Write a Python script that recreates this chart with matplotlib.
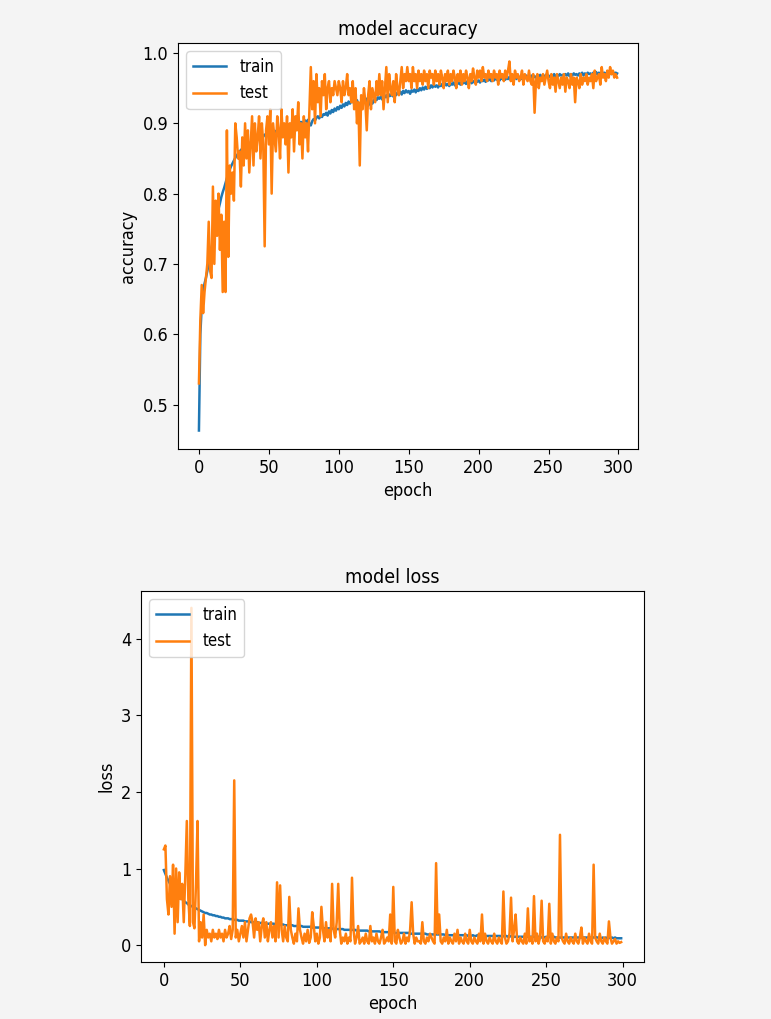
import matplotlib
matplotlib.use("Agg")
import matplotlib.pyplot as plt

plt.rcParams["font.family"] = ["DejaVu Sans"]
plt.rcParams["font.stretch"] = "condensed"

# ─── data (300 epochs) ───
train_acc = [
    0.463, 0.600, 0.640, 0.660, 0.672, 0.680, 0.690, 0.700, 0.712, 0.722,
    0.733, 0.745, 0.757, 0.770, 0.778, 0.786, 0.795, 0.802, 0.808, 0.815,
    0.822, 0.828, 0.834, 0.839, 0.843, 0.847, 0.851, 0.854, 0.857, 0.860,
    0.862, 0.864, 0.866, 0.867, 0.869, 0.871, 0.870, 0.873, 0.875, 0.874,
    0.876, 0.878, 0.877, 0.880, 0.879, 0.882, 0.881, 0.884, 0.883, 0.885,
    0.886, 0.884, 0.888, 0.887, 0.889, 0.888, 0.891, 0.890, 0.892, 0.891,
    0.893, 0.894, 0.892, 0.895, 0.896, 0.894, 0.897, 0.898, 0.896, 0.899,
    0.900, 0.898, 0.901, 0.902, 0.900, 0.903, 0.904, 0.902, 0.905, 0.899,
    0.897, 0.903, 0.906, 0.904, 0.908, 0.910, 0.907, 0.911, 0.909, 0.913,
    0.912, 0.915, 0.911, 0.917, 0.914, 0.919, 0.916, 0.921, 0.918, 0.923,
    0.920, 0.925, 0.922, 0.927, 0.924, 0.929, 0.926, 0.931, 0.928, 0.932,
    0.930, 0.934, 0.929, 0.933, 0.927, 0.925, 0.931, 0.934, 0.930, 0.936,
    0.933, 0.925, 0.930, 0.934, 0.928, 0.932, 0.936, 0.933, 0.937, 0.935,
    0.938, 0.934, 0.939, 0.937, 0.940, 0.936, 0.941, 0.939, 0.942, 0.938,
    0.943, 0.940, 0.944, 0.942, 0.945, 0.941, 0.946, 0.943, 0.947, 0.944,
    0.946, 0.942, 0.947, 0.945, 0.948, 0.944, 0.949, 0.946, 0.950, 0.947,
    0.951, 0.948, 0.952, 0.949, 0.953, 0.950, 0.954, 0.951, 0.955, 0.952,
    0.954, 0.951, 0.955, 0.953, 0.956, 0.952, 0.957, 0.954, 0.956, 0.953,
    0.957, 0.955, 0.958, 0.954, 0.959, 0.956, 0.958, 0.955, 0.960, 0.957,
    0.959, 0.956, 0.960, 0.958, 0.961, 0.957, 0.960, 0.958, 0.962, 0.959,
    0.961, 0.958, 0.963, 0.960, 0.962, 0.959, 0.963, 0.961, 0.964, 0.960,
    0.963, 0.961, 0.965, 0.962, 0.964, 0.961, 0.965, 0.963, 0.966, 0.962,
    0.965, 0.963, 0.966, 0.962, 0.965, 0.964, 0.967, 0.963, 0.966, 0.964,
    0.967, 0.963, 0.966, 0.964, 0.968, 0.965, 0.967, 0.964, 0.968, 0.965,
    0.967, 0.965, 0.968, 0.964, 0.969, 0.966, 0.968, 0.965, 0.969, 0.966,
    0.968, 0.966, 0.969, 0.967, 0.970, 0.966, 0.969, 0.967, 0.970, 0.968,
    0.969, 0.967, 0.970, 0.968, 0.971, 0.967, 0.970, 0.968, 0.971, 0.969,
    0.970, 0.968, 0.971, 0.969, 0.972, 0.968, 0.971, 0.969, 0.972, 0.970,
    0.971, 0.969, 0.972, 0.970, 0.973, 0.969, 0.972, 0.970, 0.973, 0.971,
    0.972, 0.970, 0.973, 0.971, 0.972, 0.970, 0.973, 0.971, 0.972, 0.971,
]

test_acc = [
    0.530, 0.620, 0.670, 0.630, 0.660, 0.680, 0.700, 0.760, 0.690, 0.680,
    0.810, 0.700, 0.790, 0.740, 0.800, 0.720, 0.770, 0.660, 0.760, 0.660,
    0.890, 0.710, 0.840, 0.800, 0.830, 0.790, 0.900, 0.880, 0.850, 0.860,
    0.810, 0.880, 0.840, 0.900, 0.850, 0.890, 0.830, 0.870, 0.910, 0.840,
    0.900, 0.860, 0.880, 0.910, 0.850, 0.900, 0.870, 0.725, 0.890, 0.910,
    0.870, 0.920, 0.800, 0.900, 0.880, 0.860, 0.910, 0.890, 0.850, 0.920,
    0.880, 0.900, 0.870, 0.910, 0.830, 0.900, 0.880, 0.920, 0.860, 0.910,
    0.890, 0.930, 0.870, 0.900, 0.850, 0.910, 0.880, 0.900, 0.860, 0.920,
    0.980, 0.920, 0.960, 0.900, 0.970, 0.930, 0.950, 0.910, 0.960, 0.940,
    0.970, 0.920, 0.950, 0.960, 0.930, 0.950, 0.940, 0.960, 0.950, 0.940,
    0.960, 0.950, 0.930, 0.960, 0.940, 0.950, 0.970, 0.940, 0.950, 0.930,
    0.960, 0.920, 0.950, 0.900, 0.930, 0.840, 0.940, 0.920, 0.950, 0.930,
    0.890, 0.940, 0.960, 0.920, 0.950, 0.940, 0.930, 0.960, 0.940, 0.970,
    0.940, 0.960, 0.920, 0.950, 0.980, 0.930, 0.970, 0.950, 0.940, 0.960,
    0.930, 0.970, 0.950, 0.940, 0.960, 0.980, 0.950, 0.970, 0.960, 0.980,
    0.960, 0.970, 0.950, 0.980, 0.960, 0.970, 0.950, 0.975, 0.960, 0.970,
    0.955, 0.975, 0.960, 0.970, 0.950, 0.975, 0.965, 0.970, 0.955, 0.975,
    0.960, 0.970, 0.955, 0.975, 0.965, 0.950, 0.970, 0.960, 0.975, 0.955,
    0.970, 0.960, 0.975, 0.965, 0.950, 0.970, 0.960, 0.975, 0.955, 0.970,
    0.960, 0.975, 0.965, 0.950, 0.970, 0.960, 0.978, 0.965, 0.955, 0.975,
    0.965, 0.975, 0.960, 0.980, 0.965, 0.970, 0.960, 0.975, 0.965, 0.970,
    0.960, 0.975, 0.965, 0.970, 0.955, 0.975, 0.965, 0.970, 0.960, 0.975,
    0.965, 0.975, 0.988, 0.960, 0.970, 0.955, 0.975, 0.965, 0.970, 0.960,
    0.965, 0.975, 0.955, 0.970, 0.965, 0.960, 0.975, 0.960, 0.955, 0.970,
    0.915, 0.960, 0.970, 0.950, 0.965, 0.960, 0.970, 0.955, 0.965, 0.975,
    0.960, 0.950, 0.970, 0.955, 0.965, 0.945, 0.970, 0.960, 0.950, 0.965,
    0.955, 0.970, 0.945, 0.965, 0.960, 0.950, 0.970, 0.955, 0.965, 0.930,
    0.965, 0.960, 0.950, 0.970, 0.955, 0.965, 0.960, 0.970, 0.955, 0.965,
    0.960, 0.970, 0.950, 0.975, 0.960, 0.965, 0.970, 0.955, 0.980, 0.965,
    0.970, 0.960, 0.975, 0.965, 0.980, 0.970, 0.975, 0.965, 0.970, 0.965,
]

train_loss = [
    0.98, 0.93, 0.88, 0.84, 0.80, 0.77, 0.74, 0.71, 0.68, 0.66,
    0.64, 0.62, 0.60, 0.58, 0.56, 0.55, 0.53, 0.52, 0.51, 0.50,
    0.49, 0.48, 0.47, 0.46, 0.45, 0.44, 0.43, 0.42, 0.42, 0.41,
    0.40, 0.40, 0.39, 0.39, 0.38, 0.38, 0.37, 0.37, 0.36, 0.36,
    0.35, 0.35, 0.35, 0.34, 0.34, 0.34, 0.33, 0.33, 0.33, 0.32,
    0.32, 0.32, 0.32, 0.31, 0.31, 0.31, 0.31, 0.30, 0.30, 0.30,
    0.30, 0.30, 0.29, 0.29, 0.29, 0.29, 0.29, 0.28, 0.28, 0.28,
    0.28, 0.28, 0.28, 0.27, 0.27, 0.27, 0.27, 0.27, 0.27, 0.26,
    0.26, 0.26, 0.26, 0.26, 0.26, 0.25, 0.25, 0.25, 0.25, 0.25,
    0.25, 0.24, 0.24, 0.24, 0.24, 0.24, 0.24, 0.23, 0.23, 0.23,
    0.23, 0.23, 0.23, 0.23, 0.22, 0.22, 0.22, 0.22, 0.22, 0.22,
    0.22, 0.21, 0.21, 0.21, 0.21, 0.21, 0.21, 0.21, 0.20, 0.20,
    0.20, 0.20, 0.20, 0.20, 0.20, 0.20, 0.19, 0.19, 0.19, 0.19,
    0.19, 0.19, 0.19, 0.19, 0.18, 0.18, 0.18, 0.18, 0.18, 0.18,
    0.18, 0.18, 0.17, 0.17, 0.17, 0.17, 0.17, 0.17, 0.17, 0.17,
    0.17, 0.16, 0.16, 0.16, 0.16, 0.16, 0.16, 0.16, 0.16, 0.16,
    0.16, 0.15, 0.15, 0.15, 0.15, 0.15, 0.15, 0.15, 0.15, 0.15,
    0.15, 0.15, 0.14, 0.14, 0.14, 0.14, 0.14, 0.14, 0.14, 0.14,
    0.14, 0.14, 0.14, 0.14, 0.13, 0.13, 0.13, 0.13, 0.13, 0.13,
    0.13, 0.13, 0.13, 0.13, 0.13, 0.13, 0.13, 0.13, 0.13, 0.12,
    0.13, 0.12, 0.13, 0.12, 0.12, 0.13, 0.12, 0.12, 0.12, 0.12,
    0.12, 0.12, 0.12, 0.12, 0.12, 0.12, 0.12, 0.12, 0.12, 0.12,
    0.12, 0.11, 0.12, 0.11, 0.12, 0.11, 0.11, 0.12, 0.11, 0.11,
    0.11, 0.11, 0.11, 0.11, 0.11, 0.11, 0.11, 0.11, 0.11, 0.11,
    0.11, 0.11, 0.11, 0.11, 0.11, 0.11, 0.11, 0.10, 0.11, 0.10,
    0.11, 0.10, 0.11, 0.10, 0.10, 0.11, 0.10, 0.10, 0.10, 0.10,
    0.10, 0.10, 0.10, 0.10, 0.10, 0.10, 0.10, 0.10, 0.10, 0.10,
    0.10, 0.10, 0.10, 0.10, 0.10, 0.10, 0.10, 0.10, 0.10, 0.10,
    0.10, 0.10, 0.11, 0.10, 0.10, 0.10, 0.09, 0.10, 0.09, 0.10,
    0.09, 0.10, 0.09, 0.10, 0.09, 0.10, 0.09, 0.09, 0.09, 0.09,
]

test_loss = [
    1.25, 1.30, 0.60, 0.40, 0.90, 0.50, 1.05, 0.15, 1.00, 0.30,
    0.95, 0.60, 0.80, 0.30, 0.90, 1.62, 0.60, 0.25, 4.40, 0.30,
    0.22, 0.80, 1.62, 0.05, 0.30, 0.10, 0.40, 0.00, 0.20, 0.10,
    0.15, 0.05, 0.20, 0.10, 0.15, 0.08, 0.20, 0.10, 0.15, 0.05,
    0.20, 0.10, 0.15, 0.25, 0.08, 0.20, 2.15, 0.10, 0.20, 0.05,
    0.15, 0.25, 0.10, 0.30, 0.05, 0.20, 0.35, 0.40, 0.30, 0.10,
    0.35, 0.20, 0.30, 0.05, 0.25, 0.35, 0.10, 0.30, 0.05, 0.20,
    0.30, 0.10, 0.25, 0.05, 0.82, 0.10, 0.78, 0.20, 0.05, 0.25,
    0.10, 0.05, 0.63, 0.20, 0.10, 0.02, 0.15, 0.05, 0.48, 0.20,
    0.10, 0.02, 0.15, 0.05, 0.20, 0.03, 0.10, 0.43, 0.25, 0.05,
    0.15, 0.02, 0.10, 0.50, 0.20, 0.05, 0.30, 0.10, 0.20, 0.05,
    0.80, 0.20, 0.10, 0.30, 0.80, 0.20, 0.02, 0.10, 0.05, 0.15,
    0.02, 0.10, 0.05, 0.88, 0.20, 0.02, 0.10, 0.25, 0.02, 0.05,
    0.10, 0.02, 0.15, 0.05, 0.02, 0.25, 0.05, 0.10, 0.02, 0.15,
    0.05, 0.02, 0.10, 0.20, 0.02, 0.05, 0.10, 0.05, 0.40, 0.02,
    0.76, 0.05, 0.02, 0.20, 0.10, 0.02, 0.05, 0.15, 0.02, 0.10,
    0.05, 0.20, 0.56, 0.15, 0.02, 0.10, 0.05, 0.05, 0.02, 0.30,
    0.05, 0.02, 0.10, 0.05, 0.15, 0.10, 0.05, 0.02, 1.07, 0.15,
    0.40, 0.05, 0.02, 0.10, 0.05, 0.20, 0.02, 0.10, 0.05, 0.02,
    0.15, 0.05, 0.20, 0.02, 0.10, 0.05, 0.02, 0.15, 0.05, 0.02,
    0.20, 0.05, 0.02, 0.10, 0.05, 0.02, 0.15, 0.05, 0.40, 0.02,
    0.15, 0.05, 0.02, 0.10, 0.05, 0.02, 0.15, 0.05, 0.02, 0.10,
    0.05, 0.02, 0.70, 0.10, 0.02, 0.05, 0.15, 0.62, 0.05, 0.20,
    0.40, 0.05, 0.02, 0.10, 0.05, 0.02, 0.15, 0.02, 0.48, 0.05,
    0.10, 0.02, 0.64, 0.05, 0.15, 0.02, 0.10, 0.58, 0.05, 0.02,
    0.10, 0.05, 0.54, 0.02, 0.15, 0.05, 0.02, 0.10, 0.05, 1.44,
    0.10, 0.05, 0.02, 0.15, 0.05, 0.02, 0.10, 0.05, 0.02, 0.15,
    0.05, 0.02, 0.10, 0.23, 0.02, 0.10, 0.05, 0.02, 0.15, 0.05,
    0.02, 1.05, 0.10, 0.05, 0.02, 0.15, 0.05, 0.02, 0.10, 0.05,
    0.02, 0.31, 0.10, 0.02, 0.05, 0.08, 0.02, 0.05, 0.03, 0.04,
]

epochs = list(range(len(train_acc)))
xticks = [0, 50, 100, 150, 200, 250, 300]

fig = plt.figure(figsize=(7.71, 10.19), dpi=100, facecolor="#f4f4f4")

# ─── top: model accuracy ───
ax1 = fig.add_axes([0.2309, 0.5594, 0.5966, 0.3984])
ax1.plot(epochs, train_acc, label="train", linewidth=1.8)
ax1.plot(epochs, test_acc, label="test", linewidth=1.8)
ax1.set_title("model accuracy", fontsize=14)
ax1.set_ylabel("accuracy", fontsize=13)
ax1.set_xlabel("epoch", fontsize=13)
ax1.set_xticks(xticks)
ax1.tick_params(labelsize=13)
ax1.legend(loc="upper left", fontsize=12)

# ─── bottom: model loss ───
ax2 = fig.add_axes([0.1829, 0.0559, 0.6524, 0.3641])
ax2.plot(epochs, train_loss, label="train", linewidth=1.8)
ax2.plot(epochs, test_loss, label="test", linewidth=1.8)
ax2.set_title("model loss", fontsize=14)
ax2.set_ylabel("loss", fontsize=13)
ax2.set_xlabel("epoch", fontsize=13)
ax2.set_xticks(xticks)
ax2.tick_params(labelsize=13)
ax2.legend(loc="upper left", fontsize=12)

fig.savefig("out.png", dpi=100, facecolor=fig.get_facecolor())
